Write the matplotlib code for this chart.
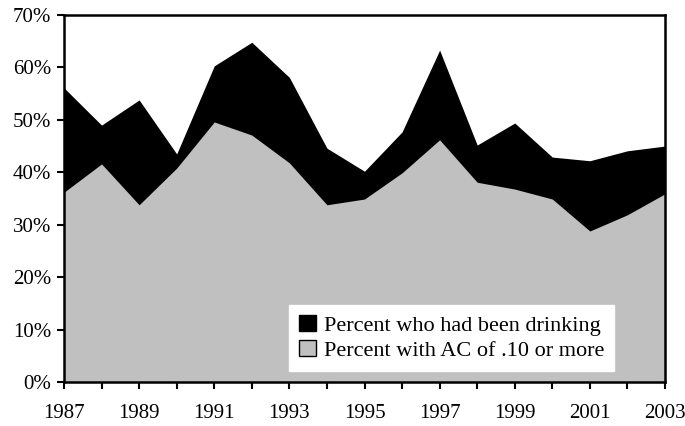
import matplotlib
matplotlib.use("Agg")
import matplotlib.pyplot as plt
from matplotlib.patches import Patch
from matplotlib.ticker import FuncFormatter, MultipleLocator

years = [1987, 1988, 1989, 1990, 1991, 1992, 1993, 1994, 1995, 1996,
         1997, 1998, 1999, 2000, 2001, 2002, 2003]
drinking = [56.1, 49.0, 53.8, 43.5, 60.3, 64.8, 58.1, 44.6, 40.2, 47.7,
            63.3, 45.2, 49.4, 42.9, 42.2, 44.1, 45.0]
ac10 = [36.2, 41.6, 33.8, 40.8, 49.6, 47.1, 41.8, 33.8, 34.9, 39.9,
        46.2, 38.1, 36.8, 34.9, 28.8, 31.9, 35.9]
labels = ["Percent who had been drinking", "Percent with AC of .10 or more"]
xtick_labels = [1987, 1989, 1991, 1993, 1995, 1997, 1999, 2001, 2003]

plt.rcParams['font.family'] = ['Liberation Serif', 'DejaVu Serif']

fig = plt.figure(figsize=(6.85, 4.26), dpi=100)
ax = fig.add_axes([64/685, 44/426, 601/685, 367/426])

ax.fill_between(years, 0, drinking, color='black', linewidth=0)
ax.fill_between(years, 0, ac10, color='#c0c0c0', linewidth=0)

ax.set_xlim(1987, 2003)
ax.set_ylim(0, 70)
ax.set_xticks(years)
ax.set_xticklabels([str(y) if y in xtick_labels else "" for y in years])
ax.yaxis.set_major_locator(MultipleLocator(10))
ax.yaxis.set_major_formatter(FuncFormatter(lambda v, p: f"{int(v)}%"))
ax.tick_params(axis='both', direction='out', length=5, width=1.5, labelsize=15, colors='black')
ax.tick_params(axis='x', pad=11)
ax.tick_params(axis='y', pad=4)
for s in ax.spines.values():
    s.set_linewidth(1.8)
    s.set_color('black')

handles = [Patch(facecolor='black', edgecolor='black', linewidth=1),
           Patch(facecolor='#c0c0c0', edgecolor='black', linewidth=1)]
leg = ax.legend(handles, labels, loc='lower right', bbox_to_anchor=(614/685, (426-371)/426),
                bbox_transform=fig.transFigure, frameon=True, fancybox=False,
                fontsize=16, handlelength=0.75, handleheight=0.75, handletextpad=0.35,
                borderpad=0.45, labelspacing=0.2, borderaxespad=0)
leg.get_frame().set_facecolor('white')
leg.get_frame().set_edgecolor('white')
leg.get_frame().set_alpha(1)

fig.savefig("out.png", dpi=100)
